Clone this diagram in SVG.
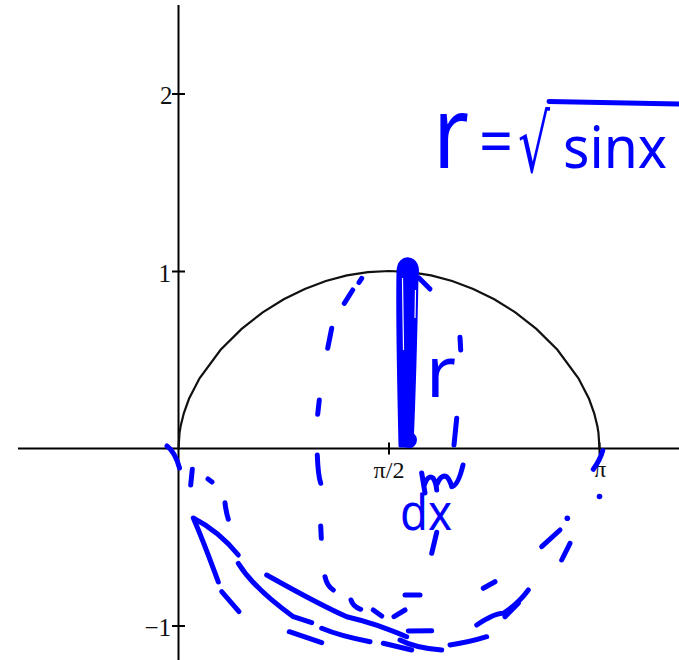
<svg xmlns="http://www.w3.org/2000/svg" width="679" height="660" viewBox="0 0 679 660">
<style>
.ax{stroke:#000;stroke-width:2;fill:none}
.curve{stroke:#111;stroke-width:2.2;fill:none}
.lbl{font-family:"Liberation Serif","Times New Roman",serif;fill:#111}
.ink{stroke:#0000ff;stroke-width:5;stroke-linecap:round;stroke-linejoin:round;fill:none}
.hw{font-family:"Noto Sans","DejaVu Sans",sans-serif;fill:#0000ff}
</style>
<rect width="679" height="660" fill="#fff"/>
<g id="axes">
<line class="ax" x1="178.5" y1="5" x2="178.5" y2="660"/>
<line class="ax" x1="18" y1="448.5" x2="679" y2="448.5"/>
<line class="ax" x1="172" y1="94" x2="185" y2="94"/>
<line class="ax" x1="172" y1="271.5" x2="185" y2="271.5"/>
<line class="ax" x1="172" y1="626" x2="185" y2="626"/>
<line class="ax" x1="389" y1="442.5" x2="389" y2="454.5"/>
<line class="ax" x1="599.5" y1="442.5" x2="599.5" y2="454.5"/>
</g>
<g id="tick-labels">
<text class="lbl" x="172.5" y="104" font-size="25" text-anchor="end">2</text>
<text class="lbl" x="171" y="281.5" font-size="25" text-anchor="end">1</text>
<text class="lbl" x="171" y="636" font-size="25" text-anchor="end">−1</text>
<text class="lbl" x="389" y="478" font-size="24" text-anchor="middle">π/2</text>
<text class="lbl" x="600" y="477" font-size="24" text-anchor="middle">π</text>
</g>
<g id="curve">
<polyline class="curve" points="178.5,448.5 179.55,432.8 180.6,426.3 183.8,413.3 189,398.8 199.55,378.3 220.6,349.8 241.65,328.9 262.7,312.4 283.75,299.2 304.8,288.9 325.85,281 346.9,275.4 367.95,272.1 389,271 410.05,272.1 431.1,275.4 452.15,281 473.2,288.9 494.25,299.2 515.3,312.4 536.35,328.9 557.4,349.8 578.45,378.3 589,398.8 594.2,413.3 597.4,426.3 598.45,432.8 599.5,448.5"/>
</g>
<g id="annotation-formula">
<text class="hw" x="433" y="168" font-size="100" textLength="36" lengthAdjust="spacingAndGlyphs">r</text>
<text class="hw" x="479" y="164" font-size="64" textLength="34" lengthAdjust="spacingAndGlyphs">=</text>
<text class="hw" x="518" y="172" font-size="80" textLength="32" lengthAdjust="spacingAndGlyphs">√</text>
<line class="ink" x1="549" y1="101.5" x2="679" y2="104"/>
<text class="hw" x="563" y="168" font-size="58" textLength="104" lengthAdjust="spacingAndGlyphs">sinx</text>
</g>
<g id="annotation-strip">
<path d="M400,446 C399,400 397,320 398,272 C398,262 404,258 409,259 C415,260 419,266 417,276 C416,330 414,400 412,446 Z" fill="#0000ff" stroke="#0000ff" stroke-width="3" stroke-linejoin="round"/>
<path d="M402.5,278 L403.5,350 M415.5,290 L415,318" stroke="#fff" stroke-width="1.2" fill="none"/>
<circle class="ink" cx="409" cy="440" r="5.5"/>
<path class="ink" d="M419,278 L430,289"/>
</g>
<g id="annotation-labels">
<text class="hw" x="426" y="397" font-size="72" textLength="30" lengthAdjust="spacingAndGlyphs">r</text>
<path class="ink" d="M421.7,473 L425,493 M424,486 Q428,474 433,478 Q436,482 436.7,490 M437,484 Q441,474 446.7,476.7 Q450,480 451.7,486.7 Q458,486 463,465"/>
<text class="hw" x="400" y="530" font-size="50" textLength="52" lengthAdjust="spacingAndGlyphs">dx</text>
</g>
<g id="annotation-ellipse">
<path class="ink" d="M361.7,278.3 L359,282.5"/>
<path class="ink" d="M352.7,290 L344.3,303.3"/>
<path class="ink" d="M331.7,328.3 L327.7,348.3"/>
<path class="ink" d="M319.3,400 L317.7,414.3"/>
<path class="ink" d="M317.3,455 Q318,475 320.7,483.3"/>
<path class="ink" d="M320.7,526 L321.3,538.3"/>
<path class="ink" d="M325,576.7 Q327,586 333.3,590"/>
<path class="ink" d="M351,600 Q353,606.7 360.7,609.3"/>
<path class="ink" d="M373.3,610 L381.7,616"/>
<path class="ink" d="M394,616.7 L405,610"/>
<path class="ink" d="M405,595 L420,595"/>
<path class="ink" d="M431.7,553.3 L436.7,532.3"/>
<path class="ink" d="M454,445 L456.7,418.3"/>
<path class="ink" d="M460,337.3 L460.7,350"/>
</g>
<g id="annotation-lower">
<path class="ink" d="M167,446 Q175,452 179.5,468"/>
<path class="ink" d="M192.3,469.3 L190.7,485"/>
<path class="ink" d="M208,479 L212,482"/>
<path class="ink" d="M225,502.7 Q226,512 228.3,519.3"/>
<path class="ink" d="M218.3,582 C212,565 205,545 193.3,518 C203,523 222,535 238.3,555"/>
<path class="ink" d="M221.7,591.7 L239,611.7"/>
<path class="ink" d="M238.3,563.3 C250,582 270,600 293.3,616.7 L311.7,622.7"/>
<path class="ink" d="M266.7,575 C290,588 320,605 346.7,616.7 C370,622 385,628 406.7,636.7"/>
<path class="ink" d="M289.3,631.7 L321.7,642.7"/>
<path class="ink" d="M321.7,628.3 Q340,636 370,641.7"/>
<path class="ink" d="M383.3,643.3 L411.7,650"/>
<path class="ink" d="M400,640 Q415,648 441.7,650"/>
<path class="ink" d="M408.3,631 L431.7,630.7"/>
<path class="ink" d="M450,645 Q470,642 486.7,636.7"/>
<path class="ink" d="M476.7,625 Q495,613 503.3,613.3 Q518,604 528.3,590"/>
<path class="ink" d="M505,616.7 L518.3,603.3"/>
<path class="ink" d="M483.3,588.3 L495,581.7"/>
<path class="ink" d="M541.7,546.7 L560,530"/>
<path class="ink" d="M561.7,560 L570,543.3"/>
<circle cx="567.3" cy="518.3" r="2.8" fill="#0000ff"/>
<circle cx="599.5" cy="496.5" r="2.8" fill="#0000ff"/>
<path class="ink" d="M602.7,450.7 Q600,460 593.3,469.3"/>
</g>
</svg>
